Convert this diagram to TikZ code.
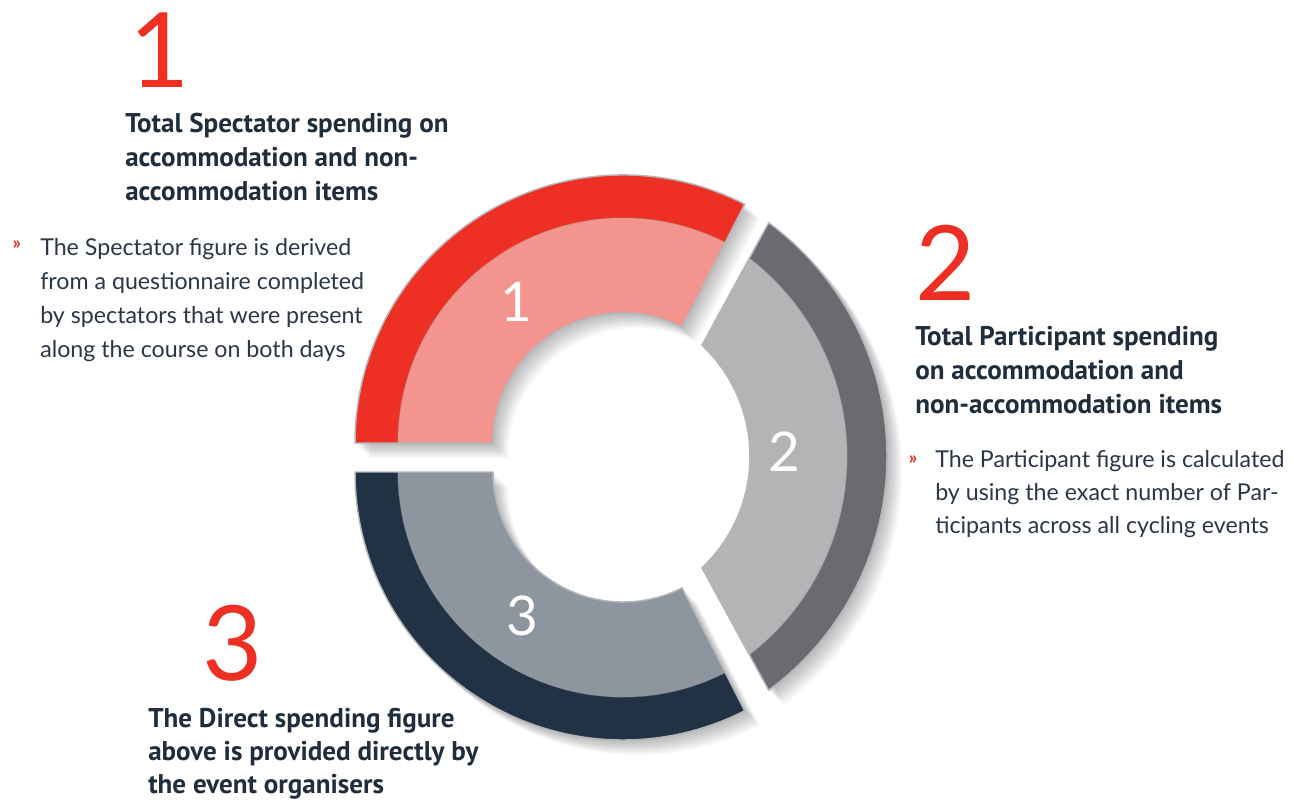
\documentclass[tikz,border=0pt]{standalone}
\usepackage{fontspec}
\setmainfont{Lato}
\newfontfamily\headfont{PT Sans}
\newfontfamily\bodyfont{Lato}
\definecolor{segred}{HTML}{EE2F24}
\definecolor{segpink}{HTML}{F3948E}
\definecolor{segdgrey}{HTML}{6A6B70}
\definecolor{seglgrey}{HTML}{B4B4B7}
\definecolor{segnavy}{HTML}{213244}
\definecolor{segslate}{HTML}{8D959F}
\definecolor{txtnavy}{HTML}{1F2D3C}
\definecolor{txtbody}{HTML}{2B3747}
\definecolor{edgegrey}{HTML}{B3B6BB}
\newcommand\segApath{([shift={(623,358)}]63:268) arc[start angle=63,end angle=180,radius=268] -- ([shift={(623,358)}]180:130) arc[start angle=180,end angle=63,radius=130] -- cycle}
\newcommand\segBpath{([shift={(597,344.5)}]-53.7:290) arc[start angle=-53.7,end angle=53.7,radius=290] -- ([shift={(597,344.5)}]46.7:153) arc[start angle=46.7,end angle=-46.7,radius=153] -- cycle}
\newcommand\segCpath{([shift={(623,329)}]180:268) arc[start angle=180,end angle=297,radius=268] -- ([shift={(623,329)}]297:130) arc[start angle=297,end angle=180,radius=130] -- cycle}
\tikzset{
  heading/.style={font=\headfont\bfseries\fontsize{20.3}{25}\selectfont, text=txtnavy, anchor=base west, inner sep=0pt},
  bodytext/.style={font=\bodyfont\fontsize{17.4}{25}\selectfont, text=txtbody, anchor=base west, inner sep=0pt},
  bignum/.style={font=\bodyfont\fontsize{78}{80}\selectfont, text=segred, anchor=base, inner sep=0pt},
  ringnum/.style={font=\bodyfont\fontsize{41}{42}\selectfont, text=white, anchor=center, inner sep=0pt},
  bulletmark/.style={font=\bodyfont\bfseries\fontsize{14}{14}\selectfont, text=segred, anchor=center, inner sep=0pt},
  shadowlayer/.style={fill=black, opacity=0.028},
  segedge/.style={draw=edgegrey, line width=1.1pt},
  midedge/.style={draw=black!35, opacity=0.35, line width=0.9pt}
}
\begin{document}
\begin{tikzpicture}[x=0.75pt,y=0.75pt]
\useasboundingbox (0,0) rectangle (1294,801);
\fill[white] (0,0) rectangle (1294,801);
% shadows
\foreach \i in {1,...,10}{
  \fill[shadowlayer, shift={(\i*1.5,-\i*1.5)}] \segApath;
  \fill[shadowlayer, shift={(\i*1.5,-\i*1.5)}] \segBpath;
  \fill[shadowlayer, shift={(\i*1.5,-\i*1.5)}] \segCpath;
}
% segment 1
\begin{scope}
  \clip \segApath;
  \fill[segred] (623,358) circle[radius=280];
  \fill[segpink] (623,358) circle[radius=225];
  \draw[midedge] (623,358) circle[radius=225];
\end{scope}
\draw[segedge] \segApath;
% segment 2
\begin{scope}
  \clip \segBpath;
  \fill[segdgrey] (597,344.5) circle[radius=300];
  \fill[seglgrey] (597,344.5) circle[radius=250];
  \draw[midedge] (597,344.5) circle[radius=250];
\end{scope}
\draw[segedge] \segBpath;
% segment 3
\begin{scope}
  \clip \segCpath;
  \fill[segnavy] (623,329) circle[radius=280];
  \fill[segslate] (623,329) circle[radius=225];
  \draw[midedge] (623,329) circle[radius=225];
\end{scope}
\draw[segedge] \segCpath;
% ring numbers
\node[ringnum] (r1) at (516,499) {1};
\node[ringnum] (r2) at (784,349) {2};
\node[ringnum] (r3) at (522,185) {3};
% big numbers
\node[bignum] (n1) at (160,713) {1};
\node[bignum] (n2) at (946,501) {2};
\node[bignum] (n3) at (233,121) {3};
% block 1
\node[heading] (h1a) at (125,668) {Total Spectator spending on};
\node[heading] (h1b) at (125,634) {accommodation and non-};
\node[heading] (h1c) at (125,600) {accommodation items};
\node[bulletmark] (b1) at (17,556) {»};
\node[bodytext] (t1a) at (40,546) {The Spectator figure is derived};
\node[bodytext] (t1b) at (40,512) {from a questionnaire completed};
\node[bodytext] (t1c) at (40,478) {by spectators that were present};
\node[bodytext] (t1d) at (40,444) {along the course on both days};
% block 2
\node[heading] (h2a) at (915,456) {Total Participant spending};
\node[heading] (h2b) at (915,422) {on accommodation and};
\node[heading] (h2c) at (915,388) {non-accommodation items};
\node[bulletmark] (b2) at (913,341) {»};
\node[bodytext] (t2a) at (935,334) {The Participant figure is calculated};
\node[bodytext] (t2b) at (935,301) {by using the exact number of Par-};
\node[bodytext] (t2c) at (935,268) {ticipants across all cycling events};
% block 3
\node[heading] (h3a) at (148,74) {The Direct spending figure};
\node[heading] (h3b) at (148,41) {above is provided directly by};
\node[heading] (h3c) at (148,8) {the event organisers};
\end{tikzpicture}
\end{document}
